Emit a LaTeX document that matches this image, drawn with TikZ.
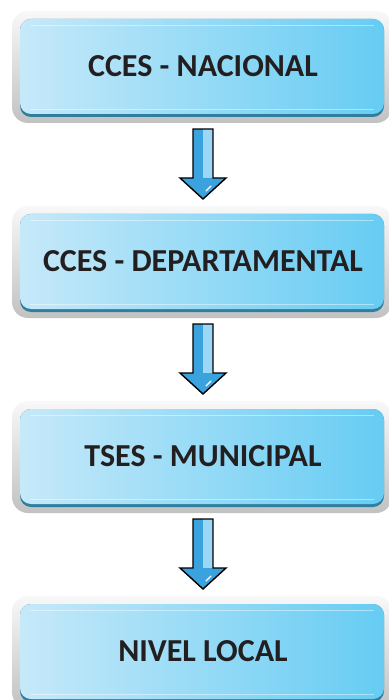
\documentclass[tikz,border=0pt]{standalone}
\usepackage{fontspec}
\setmainfont{Carlito}
\definecolor{txt}{HTML}{231F20}
\definecolor{blueL}{HTML}{C6E9F9}
\definecolor{blueR}{HTML}{66CCF3}
\definecolor{blueD}{HTML}{2F7E9E}
\definecolor{frameT}{HTML}{F8F8F8}
\definecolor{frameB}{HTML}{C2C2C2}
\definecolor{arrDark}{HTML}{3AA3DD}
\definecolor{arrLight}{HTML}{9CD8F5}
\tikzset{
  lbl/.style={font=\bfseries\fontsize{32}{36}\selectfont, text=txt, inner sep=0pt},
}
\newcommand{\levelbox}[3]{% #1 top y, #2 name, #3 text
  \shade[top color=frameT, bottom color=frameB, rounded corners=16pt]
     (12,#1-1) rectangle (392,#1+111);
  \fill[blueD, rounded corners=11pt] (20,#1+7) rectangle (384,#1+105);
  \shade[left color=blueL, right color=blueR, rounded corners=11pt]
     (20,#1+7) rectangle (384,#1+102);
  \draw[white, opacity=0.45, line width=0.8pt] (30,#1+13) -- (374,#1+13);
  \draw[white, opacity=0.45, line width=0.8pt] (30,#1+97) -- (374,#1+97);
  \node[lbl] (#2) at (203,#1+54) {#3};
}
\newcommand{\blockarrow}[3]{% #1 shaft top y, #2 from, #3 to
  \coordinate (#2) at (203,#1);
  \coordinate (#3) at (203,#1+70);
  \fill[arrDark] (193,#1) rectangle (203,#1+50);
  \fill[arrLight] (203,#1) rectangle (213,#1+50);
  \fill[arrDark] (180,#1+49) -- (226,#1+49) -- (#3) -- cycle;
  \draw[white, line width=1.2pt, line cap=round] (206,#1+62) -- (211,#1+57);
  \draw[black, line width=1.4pt, line join=miter]
     (193,#1) -- (213,#1) -- (213,#1+49) -- (226,#1+49) -- (#3)
     -- (180,#1+49) -- (193,#1+49) -- cycle;
}
\begin{document}
\begin{tikzpicture}[x=1pt,y=-1pt]
\useasboundingbox (0,0) rectangle (388,700);
\fill[white] (0,0) rectangle (388,700);
\levelbox{12}{nac}{CCES - NACIONAL}
\levelbox{207}{dep}{CCES - DEPARTAMENTAL}
\levelbox{402}{mun}{TSES - MUNICIPAL}
\levelbox{597}{loc}{NIVEL LOCAL}
\blockarrow{129}{a1}{b1}
\blockarrow{324}{a2}{b2}
\blockarrow{519}{a3}{b3}
\end{tikzpicture}
\end{document}
